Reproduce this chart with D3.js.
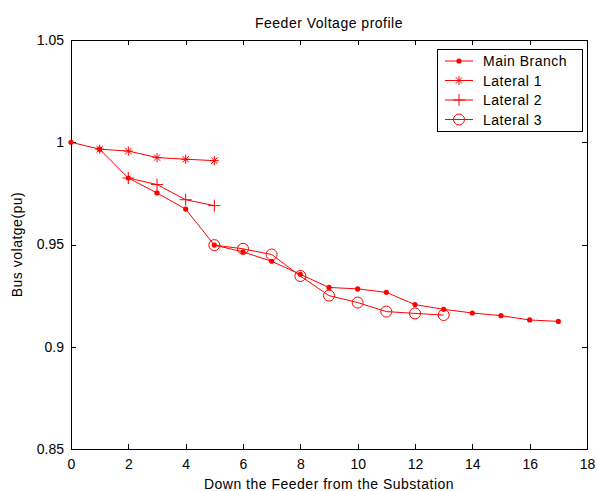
<!DOCTYPE html>
<html>
<head>
<meta charset="utf-8">
<script src="https://cdn.jsdelivr.net/npm/d3@7"></script>
<style>
  body { margin: 0; background: #fff; }
  text { font-family: "Liberation Sans", Arial, sans-serif; }
</style>
</head>
<body>
<div id="chart"></div>
<script>
// Data
var seriesNames = ["Main Branch", "Lateral 1", "Lateral 2", "Lateral 3"];
var mainX = [0, 1, 2, 3, 4, 5, 6, 7, 8, 9, 10, 11, 12, 13, 14, 15, 16, 17];
var mainY = [1.000, 0.9966, 0.9825, 0.9752, 0.9673, 0.9497, 0.9464, 0.9418, 0.9354, 0.9290,
             0.9283, 0.9266, 0.9206, 0.9183, 0.9165, 0.9152, 0.9131, 0.9124];
var lat1X = [1, 2, 3, 4, 5];
var lat1Y = [0.9966, 0.9957, 0.9925, 0.9917, 0.9910];
var lat2X = [2, 3, 4, 5];
var lat2Y = [0.9825, 0.9793, 0.9719, 0.9690];
var lat3X = [5, 6, 7, 8, 9, 10, 11, 12, 13];
var lat3Y = [0.9497, 0.9479, 0.9451, 0.9346, 0.9250, 0.9216, 0.9172, 0.9163, 0.9155];
var xTicks = [0, 2, 4, 6, 8, 10, 12, 14, 16, 18];
var yTicks = [0.85, 0.9, 0.95, 1, 1.05];

var width = 597, height = 491;
var margin = { top: 40, right: 10, bottom: 42, left: 71 };
var red = "#ff0000";
var fs = 14, ls = "0.5px";

var svg = d3.select("#chart").append("svg")
  .attr("width", width)
  .attr("height", height);

var x = d3.scaleLinear().domain([0, 18]).range([margin.left, width - margin.right]);
var y = d3.scaleLinear().domain([0.85, 1.05]).range([height - margin.bottom, margin.top]);

// box
svg.append("rect")
  .attr("x", x(0)).attr("y", y(1.05))
  .attr("width", x(18) - x(0)).attr("height", y(0.85) - y(1.05))
  .attr("fill", "none").attr("stroke", "#000").attr("stroke-width", 1)
  .attr("shape-rendering", "crispEdges");

// axes, matlab style ticks inside
var tl = 5;
svg.append("g")
  .attr("transform", `translate(0,${y(0.85)})`)
  .call(d3.axisBottom(x).tickValues(xTicks).tickSize(-tl).tickPadding(10).tickFormat(d3.format("d")))
  .call(g => g.select(".domain").remove());
svg.append("g")
  .attr("transform", `translate(0,${y(1.05)})`)
  .call(d3.axisTop(x).tickValues(xTicks).tickSize(-tl).tickFormat(""))
  .call(g => g.select(".domain").remove());
svg.append("g")
  .attr("transform", `translate(${x(0)},0)`)
  .call(d3.axisLeft(y).tickValues(yTicks).tickSize(-tl).tickPadding(7).tickFormat(d => String(+d.toFixed(2))))
  .call(g => g.select(".domain").remove());
svg.append("g")
  .attr("transform", `translate(${x(18)},0)`)
  .call(d3.axisRight(y).tickValues(yTicks).tickSize(-tl).tickFormat(""))
  .call(g => g.select(".domain").remove());

svg.selectAll(".tick line").attr("stroke", "#000").attr("shape-rendering", "crispEdges");
svg.selectAll(".tick text")
  .attr("font-size", fs)
  .attr("fill", "#000")
  .attr("font-family", "Liberation Sans, Arial, sans-serif");

// labels
svg.append("text")
  .attr("x", (x(0) + x(18)) / 2).attr("y", 28)
  .attr("text-anchor", "middle").attr("font-size", fs).attr("letter-spacing", ls)
  .text("Feeder Voltage profile");
svg.append("text")
  .attr("x", (x(0) + x(18)) / 2).attr("y", 489)
  .attr("text-anchor", "middle").attr("font-size", fs).attr("letter-spacing", ls)
  .text("Down the Feeder from the Substation");
svg.append("text")
  .attr("transform", `translate(22,${(y(0.85) + y(1.05)) / 2}) rotate(-90)`)
  .attr("text-anchor", "middle").attr("font-size", fs).attr("letter-spacing", ls)
  .text("Bus volatge(pu)");

// markers
function drawMarker(g, kind) {
  if (kind === 0) {
    g.append("circle").attr("r", 2.6).attr("fill", red);
  } else if (kind === 1) {
    var s = 4.5, d = 3.2;
    g.append("path")
      .attr("d", `M${-s},0H${s}M0,${-s}V${s}M${-d},${-d}L${d},${d}M${-d},${d}L${d},${-d}`)
      .attr("stroke", red).attr("stroke-width", 1).attr("fill", "none");
  } else if (kind === 2) {
    var p = 6;
    g.append("path")
      .attr("d", `M${-p},0H${p}M0,${-p}V${p}`)
      .attr("stroke", red).attr("stroke-width", 1).attr("fill", "none");
  } else {
    g.append("circle").attr("r", 5.5).attr("fill", "none")
      .attr("stroke", red).attr("stroke-width", 1);
  }
}

var series = [
  { xs: mainX, ys: mainY },
  { xs: lat1X, ys: lat1Y },
  { xs: lat2X, ys: lat2Y },
  { xs: lat3X, ys: lat3Y }
];

var line = d3.line().x(d => x(d[0])).y(d => y(d[1]));

series.forEach(function (s, i) {
  var pts = s.xs.map((v, j) => [v, s.ys[j]]);
  svg.append("path")
    .datum(pts)
    .attr("d", line)
    .attr("fill", "none")
    .attr("stroke", red)
    .attr("stroke-width", 1);
  svg.append("g").selectAll("g")
    .data(pts)
    .join("g")
    .attr("transform", d => `translate(${x(d[0])},${y(d[1])})`)
    .each(function () { drawMarker(d3.select(this), i); });
});

// legend
var lg = svg.append("g");
lg.append("rect")
  .attr("x", 437).attr("y", 49).attr("width", 145).attr("height", 82)
  .attr("fill", "#fff").attr("stroke", "#000").attr("stroke-width", 1)
  .attr("shape-rendering", "crispEdges");
seriesNames.forEach(function (name, i) {
  var yy = 61 + i * 19.5;
  lg.append("line")
    .attr("x1", 445).attr("x2", 473).attr("y1", yy).attr("y2", yy)
    .attr("stroke", red).attr("stroke-width", 1);
  drawMarker(lg.append("g").attr("transform", `translate(459,${yy})`), i);
  lg.append("text")
    .attr("x", 483).attr("y", yy + 5)
    .attr("font-size", fs).attr("letter-spacing", ls)
    .text(name);
});
</script>
</body>
</html>
